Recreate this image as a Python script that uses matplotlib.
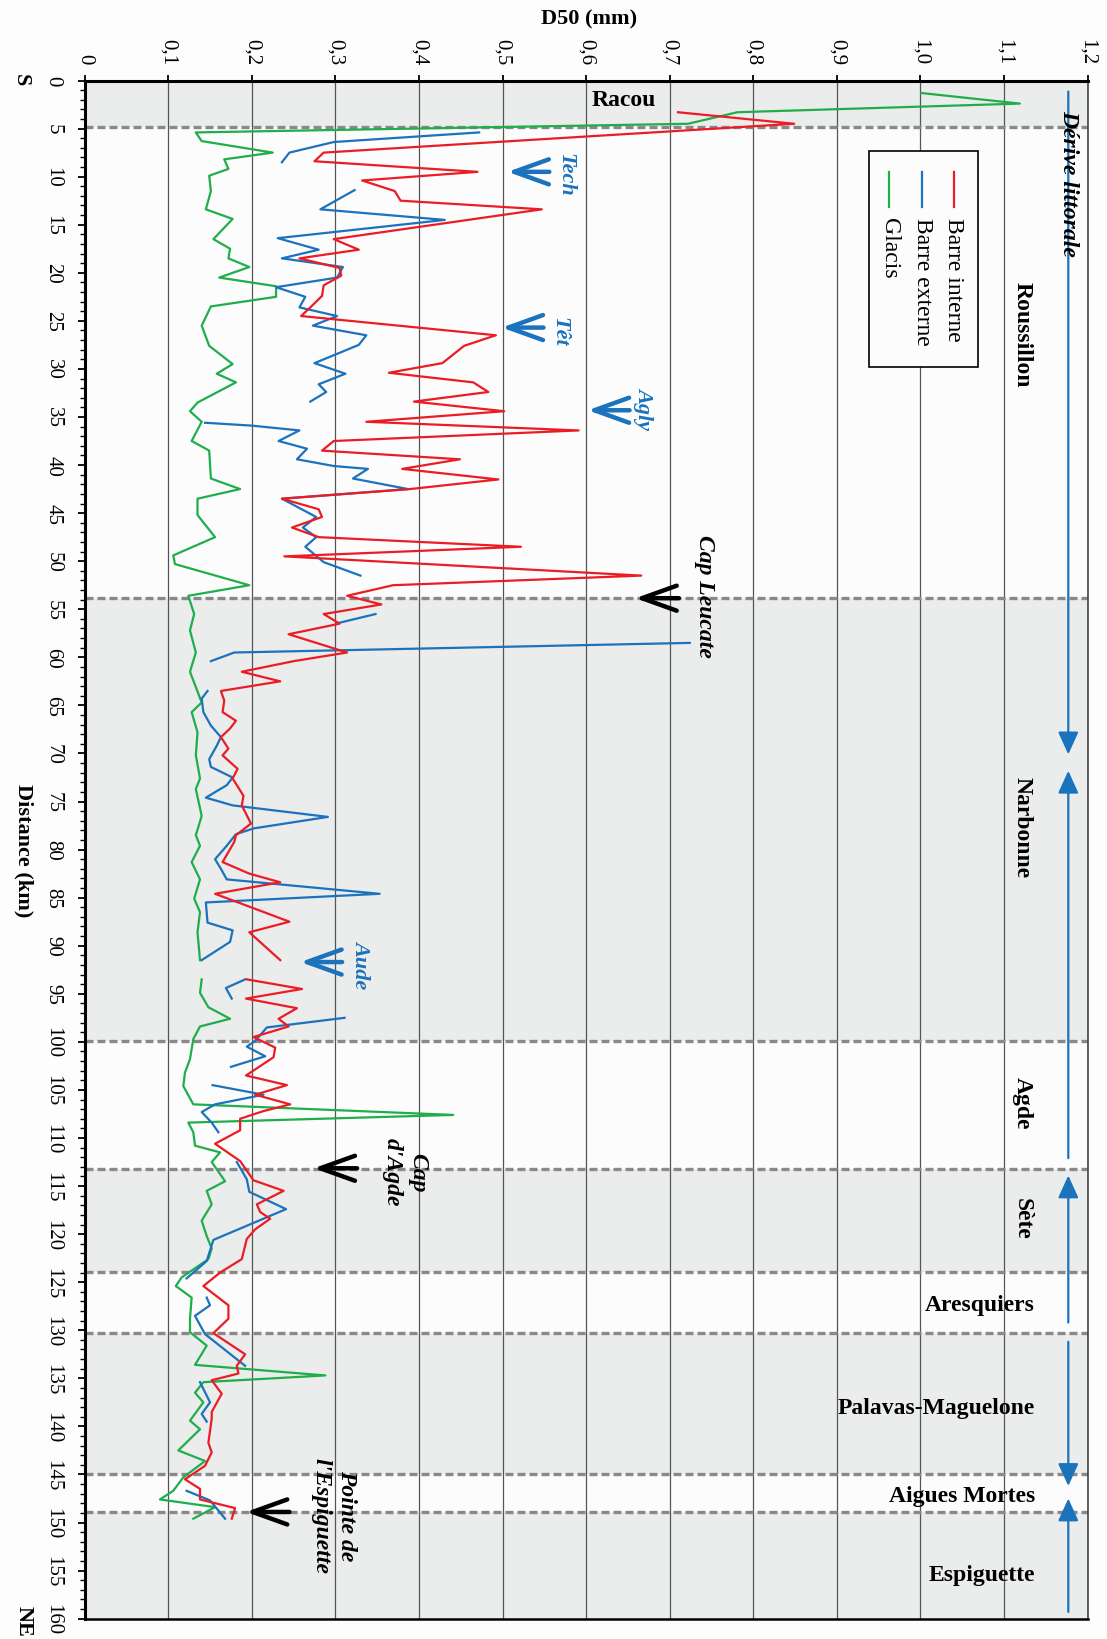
import numpy as np
import matplotlib
matplotlib.use('Agg')
import matplotlib.pyplot as plt
from matplotlib.patches import Rectangle

nan = np.nan
plt.rcParams['font.family'] = ['Liberation Serif', 'DejaVu Serif']

# ---------------- data (distance km along coast, D50 mm) ----------------
red_km = [3.3, 4.5, 7.5, 8.4, 9.5, 10.4, 11.5, 12.5, 13.4, 16.5, 17.6, 18.5, 19.5, 20.3, 21.3,
          22.4, 23.6, 24.5, 26.5, 27.6, 29.4, 30.4, 31.4, 32.4, 33.4, 34.4, 35.5, 36.4, 37.5, 38.5,
          39.4, 40.4, 41.5, 42.5, 43.5, 44.6, 45.4, 46.5, 47.5, 48.5, 49.5, 51.5, 52.5, 53.6, 54.5,
          55.5, 56.5, 57.6, 59.5, 60.4, 61.5, 62.5, 63.5, 64.5, 65.7, 66.6, 67.4, 68.3, 69.5, 70.2,
          71.6, 72.6, 74.4, 75.4, 77.3, 78.5, 79.2, 81.3, 82.5, 83.4, 84.6, 87.5, 88.6, 91.5, nan,
          93.5, 94.5, 95.5, 96.5, 97.6, 98.4, 99.5, 100.6, 101.6, 103.5, 104.5, 105.5, 106.5, 107.2,
          108.0, 109.2, 110.6, 112.4, 114.4, 115.5, 116.9, 117.7, 118.4, 119.5, 120.5, 122.6, 124.0,
          125.4, 127.4, 128.8, 130.3, 132.5, 133.7, 134.5, 135.2, 136.6, 138.5, 139.2, 141.7, 142.7,
          144.1, 145.5, 146.5, 147.6, 148.5, 149.6]
red_d50 = [0.710, 0.849, 0.286, 0.275, 0.470, 0.332, 0.371, 0.378, 0.547, 0.298, 0.328, 0.257, 0.305,
           0.307, 0.286, 0.284, 0.270, 0.259, 0.492, 0.454, 0.428, 0.364, 0.465, 0.483, 0.394, 0.502,
           0.337, 0.591, 0.298, 0.284, 0.449, 0.380, 0.495, 0.389, 0.236, 0.280, 0.284, 0.248, 0.280,
           0.522, 0.239, 0.666, 0.369, 0.314, 0.355, 0.286, 0.305, 0.244, 0.314, 0.250, 0.188, 0.234,
           0.163, 0.167, 0.165, 0.181, 0.174, 0.163, 0.172, 0.165, 0.183, 0.177, 0.190, 0.188, 0.199,
           0.181, 0.179, 0.165, 0.197, 0.234, 0.156, 0.245, 0.197, 0.234, nan,
           0.194, 0.260, 0.193, 0.254, 0.232, 0.244, 0.202, 0.228, 0.226, 0.193, 0.242, 0.204, 0.246,
           0.214, 0.186, 0.186, 0.156, 0.186, 0.202, 0.238, 0.206, 0.210, 0.222, 0.204, 0.194, 0.188,
           0.162, 0.142, 0.172, 0.172, 0.154, 0.192, 0.182, 0.184, 0.152, 0.164, 0.152, 0.152, 0.148,
           0.152, 0.144, 0.120, 0.138, 0.138, 0.180, 0.176]

blue_km = [5.4, 6.4, 7.5, 8.5, nan,
           11.4, 13.4, 14.5, 16.4, 17.6, 18.5, 19.4, 20.5, 21.5, 22.5, 23.6, 24.5, 25.5, 26.5, 27.5,
           29.4, 30.5, 31.6, 32.4, 33.4, nan,
           35.6, 35.9, 36.4, 37.5, 38.3, 39.4, 40.1, 40.4, 41.4, 42.5, 43.5, 45.4, 46.5, 47.5, 48.5,
           50.1, 51.5, nan,
           55.5, 56.4, nan,
           58.5, 59.5, 60.4, nan,
           63.5, 64.3, 65.7, 67.1, 68.3, 69.2, 70.6, 71.4, 72.5, 73.3, 74.6, 75.4, 76.6, 77.8, 78.4,
           79.6, 81.0, 82.0, 83.1, 84.6, 85.5, 87.6, 88.4, 89.6, 91.5, nan,
           93.5, 94.4, 95.5, nan,
           97.5, 98.5, 99.9, 100.5, 101.5, 102.6, nan,
           104.5, 105.5, 106.5, 107.3, 108.4, 109.4, nan,
           112.5, 114.3, 115.6, 117.4, 120.6, 122.8, 124.6, nan,
           126.6, 127.4, 128.5, 130.4, 133.7, nan,
           135.4, 137.5, 138.7, 139.5, nan,
           146.7, 147.7, 149.6]
blue_d50 = [0.472, 0.298, 0.245, 0.236, nan,
            0.323, 0.282, 0.431, 0.231, 0.280, 0.236, 0.309, 0.302, 0.229, 0.264, 0.257, 0.302, 0.273,
            0.337, 0.328, 0.275, 0.312, 0.280, 0.289, 0.270, nan,
            0.144, 0.200, 0.257, 0.232, 0.266, 0.254, 0.298, 0.339, 0.321, 0.387, 0.236, 0.277, 0.261,
            0.277, 0.264, 0.286, 0.330, nan,
            0.348, 0.305, nan,
            0.724, 0.179, 0.151, nan,
            0.147, 0.140, 0.142, 0.151, 0.163, 0.158, 0.149, 0.151, 0.177, 0.170, 0.145, 0.177, 0.291,
            0.202, 0.181, 0.170, 0.156, 0.163, 0.170, 0.353, 0.145, 0.147, 0.177, 0.174, 0.140, nan,
            0.192, 0.169, 0.176, nan,
            0.311, 0.218, 0.204, 0.194, 0.216, 0.175, nan,
            0.153, 0.214, 0.156, 0.140, 0.152, 0.160, nan,
            0.182, 0.194, 0.197, 0.241, 0.154, 0.146, 0.122, nan,
            0.146, 0.150, 0.132, 0.144, 0.192, nan,
            0.138, 0.150, 0.140, 0.146, nan,
            0.122, 0.150, 0.168]

green_km = [1.3, 2.4, 3.3, 4.5, 5.4, 6.3, 7.5, 8.2, 9.2, 9.9, 11.5, 13.4, 14.4, 16.5, 17.5, 18.5,
            19.4, 20.5, 21.4, 22.5, 23.5, 25.5, 27.6, 29.5, 30.5, 31.4, 33.5, 34.4, 35.5, 37.5, 38.5,
            41.4, 42.5, 43.5, 45.2, 47.5, 49.4, 50.3, 52.5, 53.6, 55.5, 57.2, 59.5, 61.5, 64.7, 65.7,
            67.8, 70.2, 72.6, 73.7, 76.5, 78.5, 79.6, 81.3, 83.1, 85.1, 86.5, 88.6, 91.5, nan,
            93.5, 94.9, 96.4, 97.6, 98.4, 99.7, 101.8, 103.2, 104.6, 106.5, 107.6, 108.4, 109.4, 110.8,
            111.5, 112.5, 114.5, 115.5, 116.9, 118.6, 120.2, 121.5, 122.6, 124.5, 125.4, 126.6, 128.8,
            130.2, 131.6, 133.6, 134.7, 135.4, 136.5, 137.5, 139.4, 140.3, 142.5, 143.6, 145.3, 146.7,
            147.6, 148.4, 149.6]
green_d50 = [1.001, 1.119, 0.781, 0.722, 0.133, 0.140, 0.225, 0.167, 0.172, 0.149, 0.151, 0.145, 0.177,
             0.154, 0.174, 0.172, 0.197, 0.161, 0.229, 0.229, 0.151, 0.140, 0.149, 0.177, 0.158, 0.181,
             0.135, 0.126, 0.140, 0.128, 0.149, 0.151, 0.186, 0.135, 0.135, 0.156, 0.106, 0.108, 0.197,
             0.124, 0.131, 0.126, 0.133, 0.126, 0.140, 0.128, 0.135, 0.133, 0.138, 0.133, 0.140, 0.133,
             0.138, 0.128, 0.138, 0.131, 0.138, 0.135, 0.138, nan,
             0.140, 0.138, 0.148, 0.174, 0.138, 0.130, 0.126, 0.120, 0.118, 0.130, 0.441, 0.124, 0.130,
             0.132, 0.162, 0.152, 0.168, 0.146, 0.152, 0.140, 0.146, 0.152, 0.148, 0.116, 0.109, 0.128,
             0.126, 0.126, 0.146, 0.132, 0.288, 0.142, 0.132, 0.142, 0.126, 0.138, 0.112, 0.144, 0.118,
             0.106, 0.090, 0.156, 0.130]

series_names = ['Barre interne', 'Barre externe', 'Glacis']

zone_bounds = [0, 4.8, 53.85, 99.9, 113.2, 123.9, 130.3, 145.0, 148.9, 160]
zone_shaded = [True, False, True, False, True, False, True, False, True]

d50_ticks = [0, 0.1, 0.2, 0.3, 0.4, 0.5, 0.6, 0.7, 0.8, 0.9, 1.0, 1.1, 1.2]
d50_ticklabels = ['0', '0,1', '0,2', '0,3', '0,4', '0,5', '0,6', '0,7', '0,8', '0,9', '1,0', '1,1', '1,2']
km_ticks = list(range(0, 161, 5))

# ---------------- styling ----------------
RED = '#ec1c24'
BLUE = '#1b72bd'
GREEN = '#1fae4b'
SHADE = '#ebecec'
LIGHT = '#fcfcfc'

fig = plt.figure(figsize=(11.07, 16.4), dpi=100, facecolor='#fdfdfd')
ax = fig.add_axes([0.0765, 0.0124, 0.9059, 0.9379])
ax.set_xlim(0, 1.2)
ax.set_ylim(160, 0)

for i in range(len(zone_bounds) - 1):
    ax.axhspan(zone_bounds[i], zone_bounds[i + 1], color=SHADE if zone_shaded[i] else LIGHT,
               lw=0, zorder=0)
for b in zone_bounds[1:-1]:
    ax.axhline(b, color='#898989', lw=2.4, ls=(0, (2.4, 1.2)), zorder=1.5)

ax.xaxis.tick_top()
ax.set_xticks(d50_ticks)
ax.set_xticklabels(d50_ticklabels, rotation=-90, fontsize=15)
ax.grid(axis='x', color='#555555', lw=0.9, zorder=1)
ax.set_axisbelow(True)

ax.set_yticks(km_ticks)
ax.set_yticklabels([str(k) for k in km_ticks], rotation=-90, fontsize=15, va='center')
ax.set_yticks(np.arange(0, 161, 1), minor=True)
ax.tick_params(axis='y', which='major', direction='out', length=5, width=1.3, pad=11)
ax.tick_params(axis='y', which='minor', direction='out', length=3.5, width=1.0)
ax.tick_params(axis='x', which='major', direction='out', length=4, width=1.3, pad=8)

for s in ['top', 'left']:
    ax.spines[s].set_linewidth(2.2)
ax.spines['bottom'].set_linewidth(1.8)
ax.spines['right'].set_linewidth(1.2)
ax.spines['right'].set_color('#444444')

# data lines
ax.plot(green_d50, green_km, color=GREEN, lw=1.6, zorder=3)
ax.plot(blue_d50, blue_km, color=BLUE, lw=1.6, zorder=3)
ax.plot(red_d50, red_km, color=RED, lw=1.6, zorder=3)

# axis titles
fig.text(0.532, 0.988, 'D50 (mm)', ha='center', va='center', fontsize=16, fontweight='bold')
fig.text(0.021, 0.4813, 'Distance (km)', ha='center', va='center', rotation=-90, fontsize=16,
         fontweight='bold')
fig.text(0.019, 0.951, 'S', ha='center', va='center', rotation=-90, fontsize=16, fontweight='bold')
fig.text(0.021, 0.0115, 'NE', ha='center', va='center', rotation=-90, fontsize=16, fontweight='bold')

# region labels
for name, km in [('Roussillon', 26.3), ('Narbonne', 77.6), ('Agde', 106.3), ('Sète', 118.3)]:
    ax.text(1.122, km, name, rotation=-90, ha='center', va='center', fontsize=17,
            fontweight='bold', zorder=6)
for name, km in [('Aresquiers', 127.3), ('Palavas-Maguelone', 138.0), ('Aigues Mortes', 147.2),
                 ('Espiguette', 155.4)]:
    ax.text(1.137, km, name, ha='right', va='center', fontsize=17, fontweight='bold', zorder=6)
ax.text(0.645, 2.0, 'Racou', ha='center', va='center', fontsize=17, fontweight='bold', zorder=6)

# littoral drift arrows
DX = 1.177
ax.text(DX, 10.6, 'Dérive littorale', rotation=-90, ha='center', va='center', fontsize=17,
        fontweight='bold', style='italic', zorder=6)
head = dict(arrowstyle='-|>,head_length=0.55,head_width=0.25', color=BLUE, lw=1.6,
            mutation_scale=25, shrinkA=0, shrinkB=0)
for tail, tip in [(1.15, 70.1), (112.1, 71.8), (129.2, 113.9), (131.2, 146.2), (159.3, 147.5)]:
    ax.annotate('', xy=(DX, tip), xytext=(DX, tail), arrowprops=head, zorder=5)

# river / cape annotations
chev = '->,head_length=1.25,head_width=0.45'
def point(tip, tail, km, color):
    ax.annotate('', xy=(tip, km), xytext=(tail, km),
                arrowprops=dict(arrowstyle=chev, color=color, lw=3.2, mutation_scale=20,
                                shrinkA=0, shrinkB=0), zorder=6)

for name, tip, km, tx, tkm in [('Tech', 0.506, 9.5, 0.575, 9.7), ('Têt', 0.499, 25.7, 0.568, 26.0),
                               ('Agly', 0.602, 34.3, 0.669, 34.0), ('Aude', 0.258, 91.7, 0.331, 91.8)]:
    point(tip, tip + 0.05, km, BLUE)
    ax.text(tx, tkm, name, rotation=-90, ha='center', va='center', fontsize=16, fontweight='bold',
            style='italic', color=BLUE, zorder=6)

for name, tip, km, tx, tkm in [('Cap Leucate', 0.659, 53.85, 0.742, 53.6),
                               ("Cap\nd'Agde", 0.274, 113.15, 0.383, 113.5),
                               ("Pointe de\nl'Espiguette", 0.193, 148.9, 0.298, 149.2)]:
    point(tip, tip + 0.052, km, 'black')
    ax.text(tx, tkm, name, rotation=-90, ha='center', va='center', fontsize=17, fontweight='bold',
            style='italic', color='black', multialignment='center', linespacing=1.3, zorder=6)

# rotated legend
ax.add_patch(Rectangle((0.938, 7.29), 0.131, 22.5, facecolor=LIGHT, edgecolor='black', lw=1.2,
                       zorder=5))
for name, col, lx in zip(series_names, [RED, BLUE, GREEN], [1.040, 1.002, 0.963]):
    ax.plot([lx, lx], [9.5, 13.2], color=col, lw=1.6, zorder=6)
    ax.text(lx, 14.2, name, rotation=-90, ha='center', va='top', fontsize=17, zorder=6)

fig.savefig('out.png', dpi=100, facecolor=fig.get_facecolor())
